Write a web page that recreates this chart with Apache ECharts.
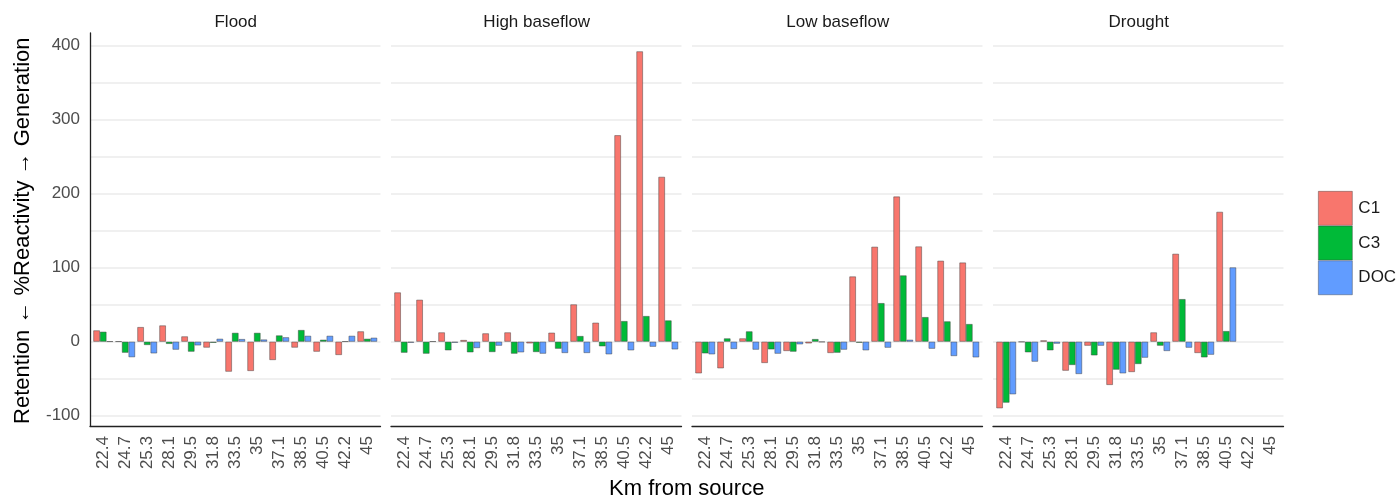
<!DOCTYPE html>
<html>
<head>
<meta charset="utf-8">
<script src="https://cdn.jsdelivr.net/npm/echarts@6/dist/echarts.min.js"></script>
<style>
html,body{margin:0;padding:0;background:#fff;}
#chart{width:1396px;height:498px;}
</style>
</head>
<body>
<div id="chart"></div>
<script>
const categories = ['22.4','24.7','25.3','28.1','29.5','31.8','33.5','35','37.1','38.5','40.5','42.2','45'];
const panelNames = ['Flood','High baseflow','Low baseflow','Drought'];
const seriesNames = ['C1','C3','DOC'];
const yTicks = [-100, 0, 100, 200, 300, 400];

const floodC1  = [15.3, 0.4, 19.8, 22, 7.2, -8, -40.5, -39.6, -24.8, -8, -13.5, -18, 14];
const floodC3  = [13.5, -14.9, -4.5, -3, -13.5, -1.5, 12, 12, 8.5, 15.8, 2.7, 0.4, 4];
const floodDOC = [0.4, -21, -15.8, -10.8, -5, 4, 3.6, 3, 6, 8, 8, 8, 5.4];

const highC1  = [66.6, 56.7, 12.6, 2.3, 11.3, 12.6, -2.3, 12.2, 50.4, 25.7, 279, 392.4, 222.8];
const highC3  = [-14.9, -16.2, -11.7, -14.4, -14, -16.2, -14, -9.5, 7.7, -6.3, 27.9, 34.7, 28.8];
const highDOC = [-1.4, 0.4, -1.4, -8.6, -5.4, -14.4, -16.2, -15.3, -15.3, -17.1, -11.7, -6.8, -10.4];

const lowC1  = [-42.8, -36, 4.5, -28.8, -12.6, -2.3, -15.3, 88.2, 128.3, 196.2, 128.7, 109.4, 107];
const lowC3  = [-15.8, 4.5, 14, -10.4, -13.5, 3.6, -14.9, -1.4, 52.2, 89.6, 33.3, 27.5, 23.9];
const lowDOC = [-17.1, -9.9, -10.8, -16.2, -3.6, -0.5, -10.8, -11.7, -8.1, 2.7, -9.5, -19.4, -21.2];

const droughtC1  = [-90, -0.4, 1.8, -39.2, -5.4, -58.5, -41, 12.6, 118.8, -15.3, 175.5, null, null];
const droughtC3  = [-82.4, -14.4, -11.7, -31.5, -18.5, -37.8, -30.2, -5.4, 57.6, -21.2, 14.4, null, null];
const droughtDOC = [-71.1, -27, -2.7, -43.7, -5.4, -42.8, -21.6, -12.6, -8.1, -17.6, 100.4, null, null];

const panelData = [
  [floodC1, floodC3, floodDOC],
  [highC1, highC3, highDOC],
  [lowC1, lowC3, lowDOC],
  [droughtC1, droughtC3, droughtDOC]
];

const colors = ['#F8766D', '#00BA38', '#619CFF'];
const FONT = "'Liberation Sans', Arial, sans-serif";

const chart = echarts.init(document.getElementById('chart'), null, {renderer: 'canvas'});

const L0 = 90, PITCH = 301, W = 290.5;
const frameTop = 33, frameBottom = 426;
const dataTop = 45.7, dataBottom = 415.7;
const inset = W * 0.1 / 13.2;

const grids = [], xAxes = [], yAxes = [], series = [], titles = [];

panelNames.forEach((name, i) => {
  const left = L0 + i * PITCH;
  // frame grid (axis lines)
  grids.push({left: left, top: frameTop, width: W, height: frameBottom - frameTop, containLabel: false});
  xAxes.push({type: 'category', gridIndex: 3*i, data: categories,
    axisLine: {show: true, lineStyle: {color: '#222', width: 1.3}},
    axisTick: {show: false}, axisLabel: {show: false}, splitLine: {show: false}});
  yAxes.push({type: 'value', gridIndex: 3*i, min: 0, max: 1,
    axisLine: {show: i === 0, lineStyle: {color: '#222', width: 1.3}},
    axisTick: {show: false}, axisLabel: {show: false}, splitLine: {show: false}});
  // gridline grid
  grids.push({left: left, top: dataTop, width: W, height: dataBottom - dataTop});
  xAxes.push({type: 'category', gridIndex: 3*i+1, data: categories, show: false});
  yAxes.push({type: 'value', gridIndex: 3*i+1, min: -100, max: 400, interval: 50,
    axisLine: {show: false}, axisTick: {show: false},
    axisLabel: {show: i === 0, fontSize: 17, color: '#4D4D4D', fontFamily: FONT, margin: 10,
      formatter: v => (yTicks.indexOf(v) >= 0 ? String(v) : '')},
    splitLine: {show: true, lineStyle: {color: '#EBEBEB', width: 1.5}},
    name: i === 0 ? 'Retention \u2190 %Reactivity \u2192 Generation' : '',
    nameLocation: 'middle', nameRotate: 90, nameGap: 56,
    nameTextStyle: {fontSize: 22, color: '#000', fontFamily: FONT}});
  // data grid
  grids.push({left: left + inset, top: dataTop, width: W - 2*inset, height: dataBottom - dataTop});
  xAxes.push({type: 'category', gridIndex: 3*i+2, data: categories, offset: frameBottom - dataBottom,
    axisLine: {show: false}, axisTick: {show: false},
    axisLabel: {show: true, rotate: 90, interval: 0, margin: 10, fontSize: 17, color: '#4D4D4D', fontFamily: FONT}});
  yAxes.push({type: 'value', gridIndex: 3*i+2, min: -100, max: 400, show: false, splitLine: {show: false}});

  seriesNames.forEach((sn, k) => {
    series.push({
      type: 'bar', name: sn, xAxisIndex: 3*i+2, yAxisIndex: 3*i+2,
      data: panelData[i][k], barWidth: '30%', barGap: '0%',
      itemStyle: {color: colors[k], borderColor: 'rgba(60,60,60,0.65)', borderWidth: 0.7},
      emphasis: {disabled: true}, animation: false
    });
  });

  titles.push({text: name, left: left + W/2 - 4.5, top: 9, textAlign: 'center',
    textStyle: {fontSize: 17, fontWeight: 'normal', color: '#1A1A1A', fontFamily: FONT}});
});

titles.push({text: 'Km from source', left: L0 + (3*PITCH + W)/2 - 5, top: 473, textAlign: 'center',
  textStyle: {fontSize: 22, fontWeight: 'normal', color: '#000', fontFamily: FONT}});

chart.setOption({
  animation: false,
  backgroundColor: '#fff',
  title: titles,
  grid: grids,
  xAxis: xAxes,
  yAxis: yAxes,
  series: series,
  legend: {
    data: seriesNames.map(n => ({name: n, icon: 'rect'})),
    orient: 'vertical', left: 1318, top: 191, itemWidth: 34, itemHeight: 34, itemGap: 0,
    padding: 0, selectedMode: false,
    itemStyle: {borderColor: 'rgba(60,60,60,0.6)', borderWidth: 0.7},
    textStyle: {fontSize: 17, color: '#1A1A1A', fontFamily: FONT, padding: [0, 0, 0, 1]}
  }
});
</script>
</body>
</html>
